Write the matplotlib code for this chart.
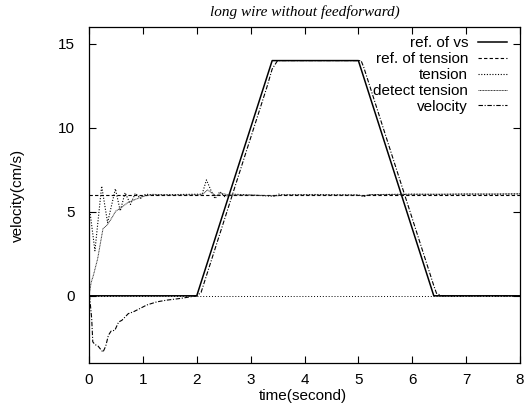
import matplotlib
matplotlib.use("Agg")
import matplotlib.pyplot as plt

# ---- data ----
ref_vs_t = [0.0, 2.0, 3.4, 5.0, 6.4, 8.0]
ref_vs_v = [0.0, 0.0, 14.0, 14.0, 0.0, 0.0]

ref_tension_t = [0.0, 8.0]
ref_tension_v = [6.0, 6.0]

tension_t = [0.0, 0.02, 0.11, 0.235, 0.345, 0.49, 0.58, 0.67, 0.77, 0.86, 0.96, 1.05,
             1.2, 1.5, 2.1, 2.18, 2.26, 2.34, 2.43, 2.52, 2.65, 3.0, 3.45, 3.52, 3.6,
             4.2, 5.0, 5.1, 5.2, 6.0, 6.5, 7.0, 7.5, 8.0]
tension_v = [5.0, 4.95, 2.68, 6.53, 4.36, 6.37, 5.05, 6.14, 5.44, 6.1, 5.8, 6.05,
             6.0, 6.02, 6.05, 6.9, 6.3, 5.78, 6.2, 5.9, 6.05, 6.0, 5.92, 6.05, 6.0,
             6.03, 6.0, 5.9, 6.02, 6.05, 6.03, 6.06, 6.04, 6.07]

detect_t = [0.0, 0.04, 0.08, 0.16, 0.26, 0.32, 0.37, 0.5, 0.6, 0.72, 0.87, 1.0, 1.18,
            1.5, 2.1, 2.2, 2.36, 2.46, 2.6, 3.0, 3.5, 3.6, 5.0, 5.1, 5.2, 6.0, 8.0]
detect_v = [0.0, 0.8, 1.2, 2.2, 4.0, 4.16, 4.36, 5.05, 5.25, 5.55, 5.75, 5.92, 6.04,
            6.0, 6.02, 6.3, 5.95, 6.1, 6.0, 6.0, 5.95, 6.02, 6.0, 5.93, 6.02, 6.04, 6.07]

velocity_t = [0.0, 0.01, 0.05, 0.07, 0.11, 0.17, 0.23, 0.26, 0.31, 0.36, 0.41, 0.48,
              0.55, 0.61, 0.67, 0.73, 0.82, 0.95, 1.07, 1.26, 1.44, 1.69, 2.0,
              2.08, 2.15, 3.3, 3.4, 3.5, 5.05, 5.1, 6.4, 6.45, 6.55, 8.0]
velocity_v = [0.0, 0.0, -1.36, -2.74, -2.9, -3.0, -3.24, -3.35, -3.0, -2.35, -2.1, -2.05,
              -1.56, -1.46, -1.26, -1.06, -0.96, -0.75, -0.55, -0.36, -0.26, -0.16, 0.0,
              0.2, 0.9, 12.4, 13.5, 14.0, 14.0, 13.6, 0.6, 0.15, 0.0, 0.0]

labels = ["ref. of vs", "ref. of tension", "tension", "detect tension", "velocity"]
xticks = [0, 1, 2, 3, 4, 5, 6, 7, 8]
yticks = [0, 5, 10, 15]

# ---- plot ----
plt.rcParams['font.family'] = ['Liberation Sans', 'DejaVu Sans']
fig = plt.figure(figsize=(5.25, 4.07), dpi=100)
ax = fig.add_axes([89/525, 44/407, 431/525, 336/407])

ax.axhline(0, color='black', lw=0.7, ls=(0, (1, 2)))
ax.plot(ref_vs_t, ref_vs_v, color='black', lw=1.1, ls='-', label=labels[0])
ax.plot(ref_tension_t, ref_tension_v, color='black', lw=0.8, ls=(0, (3, 2)), label=labels[1])
ax.plot(tension_t, tension_v, color='black', lw=0.8, ls=(0, (1, 1.5)), label=labels[2])
ax.plot(detect_t, detect_v, color='#333333', lw=0.7, ls=(0, (1, 0.6)), label=labels[3])
ax.plot(velocity_t, velocity_v, color='black', lw=0.8, ls=(0, (4, 1.5, 1, 1.5)), label=labels[4])

ax.set_xlim(0, 8)
ax.set_ylim(-4, 16)
ax.set_xticks(xticks)
ax.set_yticks(yticks)
ax.tick_params(direction='in', length=5, width=0.8, top=True, right=True,
               labelsize=11, colors='black')
ax.tick_params(axis='y', pad=10)
ax.tick_params(axis='x', pad=7)
for s in ax.spines.values():
    s.set_linewidth(0.9)

leg = ax.legend(loc='upper right', bbox_to_anchor=(0.970, 0.972), frameon=False,
                markerfirst=False, fontsize=11, handlelength=1.9, handletextpad=0.65,
                labelspacing=0.12, borderpad=0, borderaxespad=0)

fig.text(305/525, 1 - 12/407, "long wire without feedforward)", ha='center', va='center',
         family='Liberation Serif', style='italic', fontsize=11)
fig.text(18/525, 1 - 195/407, "velocity(cm/s)", rotation=90, ha='center', va='center', fontsize=11)
fig.text(303/525, 1 - 396/407, "time(second)", ha='center', va='center', fontsize=11)

fig.savefig("out.png", dpi=100)
